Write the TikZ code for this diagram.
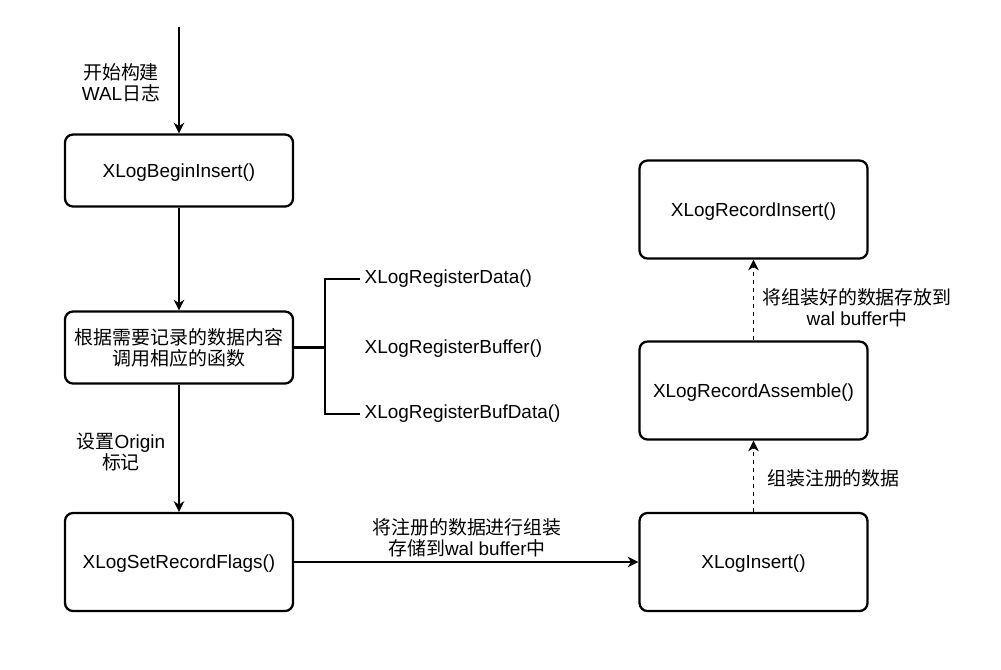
\documentclass[tikz,border=0pt]{standalone}
\usepackage{fontspec}
\setmainfont{Liberation Sans}
\newfontfamily\zhfont{Noto Sans CJK SC}
\newcommand{\zh}[1]{{\zhfont #1}}
\usetikzlibrary{arrows.meta}
\begin{document}
\begin{tikzpicture}[x=0.75pt,y=-0.75pt,
  font=\fontsize{14.2}{15.75}\selectfont,
  box/.style={draw,line width=1.7pt,rounded corners=6pt,minimum width=171pt,minimum height=54pt,inner sep=0pt},
  tallbox/.style={box,minimum height=73.5pt},
  oneline/.style={text height=0.72em,text depth=0pt},
  boxline/.style={text height=0.72em+3pt,text depth=0pt},
  flow/.style={line width=0.9pt,-{Stealth[length=8pt,width=8pt,inset=2.5pt]}},
  dashflow/.style={flow,dash pattern=on 3pt off 3pt},
  bracket/.style={line width=1.7pt},
  note/.style={align=center,inner sep=0pt}]
  \useasboundingbox (0,0) rectangle (1001,669);
  % left column
  \coordinate (start) at (179,27);
  \node[box,boxline] (begin) at (179,170.5) {XLogBeginInsert()};
  \node[box,align=center] (regist) at (179,347.5) {\zh{根据需要记录的数据内容}\\\zh{调用相应的函数}};
  \node[tallbox,boxline] (flags) at (179,562) {XLogSetRecordFlags()};
  % right column
  \node[tallbox,boxline] (insert) at (753.5,562) {XLogInsert()};
  \node[tallbox,boxline] (assemble) at (753.5,390.5) {XLogRecordAssemble()};
  \node[tallbox,boxline] (recins) at (753.5,209.5) {XLogRecordInsert()};
  % register functions
  \coordinate (fork) at (325,347.5);
  \node[anchor=west,oneline] (rdata) at (360,279) {XLogRegisterData()};
  \node[anchor=west,oneline] (rbuf) at (360,348.5) {XLogRegisterBuffer()};
  \node[anchor=west,oneline] (rbufdata) at (360,414) {XLogRegisterBufData()};
  \draw[bracket] (rdata.west) -| (fork) |- (rbufdata.west);
  \draw[bracket] (regist.east) -- (fork);
  % connectors
  \draw[flow] (start) -- (begin.north);
  \draw[flow] (begin.south) -- (regist.north);
  \draw[flow] (regist.south) -- (flags.north);
  \draw[flow] (flags.east) -- (insert.west);
  \draw[dashflow] (insert.north) -- (assemble.south);
  \draw[dashflow] (assemble.north) -- (recins.south);
  % labels
  \node[note] (lstart) at (121,83) {\zh{开始构建}\\WAL\zh{日志}};
  \node[note] (lorigin) at (121,451.5) {\zh{设置}Origin\\\zh{标记}};
  \node[note] (lstore) at (467,537.5) {\zh{将注册的数据进行组装}\\\zh{存储到}wal buffer\zh{中}};
  \node[note] (lasm) at (833.5,478) {\zh{组装注册的数据}};
  \node[note] (lput) at (857,307.5) {\zh{将组装好的数据存放到}\\wal buffer\zh{中}};
\end{tikzpicture}
\end{document}
